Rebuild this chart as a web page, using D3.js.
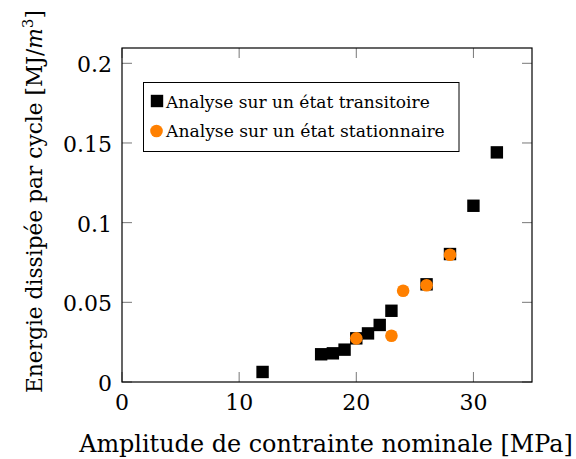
<!DOCTYPE html>
<html>
<head>
<meta charset="utf-8">
<script src="https://cdn.jsdelivr.net/npm/d3@7"></script>
<style>
  html, body { margin: 0; padding: 0; background: #fff; }
  svg { display: block; font-family: "DejaVu Serif", serif; }
</style>
</head>
<body>
<svg id="chart" width="576" height="459"></svg>
<script>
// ---- data ----
const transX = [12, 17, 18, 19, 20, 21, 22, 23, 26, 28, 30, 32];
const transY = [0.0063, 0.0174, 0.018, 0.0203, 0.0274, 0.0305, 0.0358, 0.0447, 0.0613, 0.0803, 0.1106, 0.1441];
const statX = [20, 23, 24, 26, 28];
const statY = [0.0274, 0.029, 0.0573, 0.0607, 0.0799];
const xTicks = [0, 10, 20, 30];
const xTickLabels = ["0", "10", "20", "30"];
const yTicks = [0, 0.05, 0.1, 0.15, 0.2];
const yTickLabels = ["0", "0.05", "0.1", "0.15", "0.2"];
const seriesNames = ["Analyse sur un état transitoire", "Analyse sur un état stationnaire"];

const svg = d3.select("#chart");
const L = 122, R = 532, T = 48, B = 382;
const x = d3.scaleLinear().domain([0, 35]).range([L, R]);
const y = d3.scaleLinear().domain([0, 0.2096]).range([B, T]);
const orange = "#ff8000";
const tickLen = 10;

function fit(sel, target) {
  const fs = parseFloat(sel.attr("font-size"));
  const w = sel.node().getComputedTextLength();
  sel.attr("font-size", (fs * target / w).toFixed(2));
}

// ticks (inner, mirrored)
const tg = svg.append("g").attr("stroke", "#777").attr("stroke-width", 1);
xTicks.forEach(v => {
  tg.append("line").attr("x1", x(v)).attr("x2", x(v)).attr("y1", B).attr("y2", B - tickLen);
  tg.append("line").attr("x1", x(v)).attr("x2", x(v)).attr("y1", T).attr("y2", T + tickLen);
});
yTicks.forEach(v => {
  tg.append("line").attr("x1", L).attr("x2", L + tickLen).attr("y1", y(v)).attr("y2", y(v));
  tg.append("line").attr("x1", R).attr("x2", R - tickLen).attr("y1", y(v)).attr("y2", y(v));
});

// frame
svg.append("rect").attr("x", L).attr("y", T).attr("width", R - L).attr("height", B - T)
  .attr("fill", "none").attr("stroke", "#000").attr("stroke-width", 1.2);

// tick labels
xTicks.forEach((v, i) => {
  svg.append("text").attr("x", x(v)).attr("y", 410).attr("text-anchor", "middle")
    .attr("font-size", 22).attr("fill", "#000").text(xTickLabels[i]);
});
yTicks.forEach((v, i) => {
  svg.append("text").attr("x", 112).attr("y", y(v) + 9).attr("text-anchor", "end")
    .attr("font-size", 22).attr("fill", "#000").text(yTickLabels[i]);
});

// axis labels
const xl = svg.append("text").attr("x", 326).attr("y", 452).attr("text-anchor", "middle")
  .attr("font-size", 22).attr("fill", "#000").text("Amplitude de contrainte nominale [MPa]");
fit(xl, 494);

const yl = svg.append("text").attr("transform", "translate(42,393) rotate(-90)")
  .attr("text-anchor", "start").attr("font-size", 22).attr("fill", "#000");
yl.append("tspan").text("Energie dissipée par cycle [MJ/");
yl.append("tspan").attr("font-style", "italic").text("m");
yl.append("tspan").attr("dy", -9).attr("font-size", "0.7em").text("3");
yl.append("tspan").attr("dy", 9).text("]");
fit(yl, 383);

// markers
const sq = 12.4;
svg.append("g").selectAll("rect").data(transX.map((d, i) => [d, transY[i]])).join("rect")
  .attr("x", d => x(d[0]) - sq / 2).attr("y", d => y(d[1]) - sq / 2)
  .attr("width", sq).attr("height", sq).attr("fill", "#000");
svg.append("g").selectAll("circle").data(statX.map((d, i) => [d, statY[i]])).join("circle")
  .attr("cx", d => x(d[0])).attr("cy", d => y(d[1])).attr("r", 6.3).attr("fill", orange);

// legend
const lg = svg.append("g");
lg.append("rect").attr("x", 143.5).attr("y", 82.5).attr("width", 315.5).attr("height", 69)
  .attr("fill", "#fff").attr("stroke", "#000").attr("stroke-width", 1);
lg.append("rect").attr("x", 157 - sq / 2).attr("y", 101 - sq / 2).attr("width", sq).attr("height", sq).attr("fill", "#000");
lg.append("circle").attr("cx", 156.5).attr("cy", 131).attr("r", 6.3).attr("fill", orange);
const t1 = lg.append("text").attr("x", 166).attr("y", 108).attr("font-size", 18).attr("fill", "#000").text(seriesNames[0]);
fit(t1, 264);
const t2 = lg.append("text").attr("x", 166).attr("y", 137).attr("font-size", 18).attr("fill", "#000").text(seriesNames[1]);
fit(t2, 279);
</script>
</body>
</html>
